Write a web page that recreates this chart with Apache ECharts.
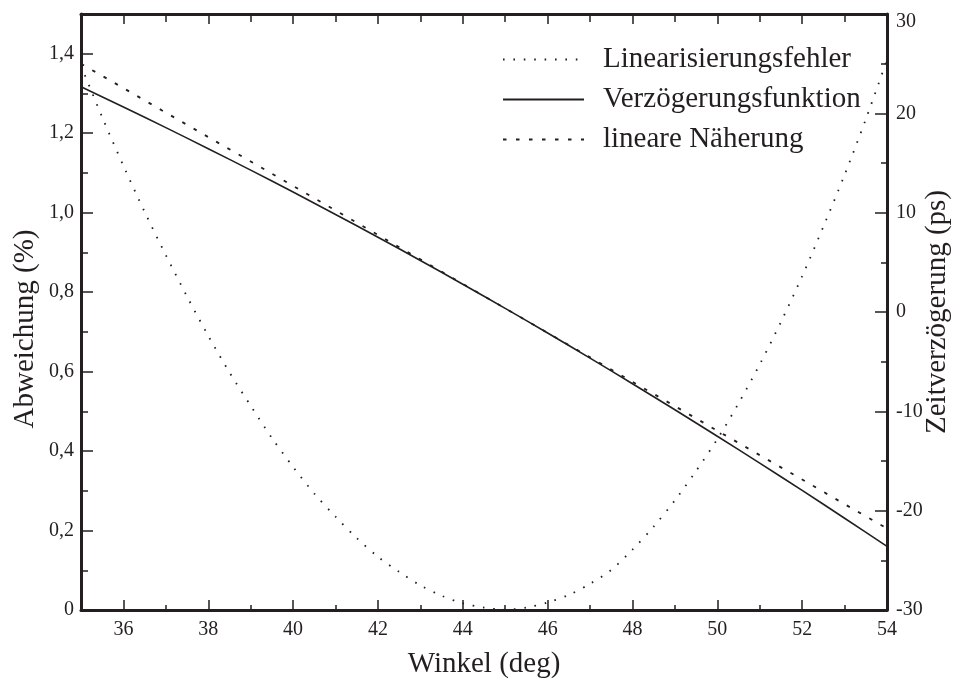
<!DOCTYPE html>
<html>
<head>
<meta charset="utf-8">
<script src="https://cdn.jsdelivr.net/npm/echarts@6/dist/echarts.min.js"></script>
<style>
  html, body { margin: 0; padding: 0; background: #ffffff; }
  #chart { width: 956px; height: 679px; }
</style>
</head>
<body>
<div id="chart"></div>
<script>
// Linearisation error (%) over angle, sampled every half degree
const errorAngles = [35, 35.5, 36, 36.5, 37, 37.5, 38, 38.5, 39, 39.5, 40, 40.5, 41, 41.5, 42, 42.5, 43, 43.5, 44, 44.5,
                     45, 45.5, 46, 46.5, 47, 47.5, 48, 48.5, 49, 49.5, 50, 50.5, 51, 51.5, 52, 52.5, 53, 53.5, 54];
const errorPercent = [1.37, 1.24, 1.118, 1.002, 0.893, 0.789, 0.690, 0.598, 0.514, 0.433, 0.360, 0.293, 0.235, 0.181, 0.134, 0.096, 0.062, 0.036, 0.017, 0.006,
                      0.001, 0.006, 0.019, 0.038, 0.066, 0.101, 0.152, 0.210, 0.276, 0.350, 0.430, 0.520, 0.618, 0.725, 0.840, 0.965, 1.095, 1.235, 1.385];

// Delay function and its linear approximation (ps), one value per degree
const delayAngles = [35, 36, 37, 38, 39, 40, 41, 42, 43, 44, 45, 46, 47, 48, 49, 50, 51, 52, 53, 54];
const delayPs  = [22.67, 20.64, 18.56, 16.44, 14.28, 12.08, 9.82, 7.53, 5.19, 2.80, 0.37, -2.11, -4.64, -7.22, -9.84, -12.51, -15.21, -17.96, -20.76, -23.60];
const linearPs = [25.00, 22.54, 20.07, 17.61, 15.15, 12.69, 10.22, 7.76, 5.30, 2.83, 0.37, -2.09, -4.56, -7.02, -9.48, -11.95, -14.41, -16.87, -19.34, -21.80];

// Tick positions
const angleTicks = [36, 38, 40, 42, 44, 46, 48, 50, 52, 54];
const angleMinorTicks = [37, 39, 41, 43, 45, 47, 49, 51, 53];
const percentTicks = [0, 0.2, 0.4, 0.6, 0.8, 1.0, 1.2, 1.4];
const percentMinorTicks = [0.1, 0.3, 0.5, 0.7, 0.9, 1.1, 1.3];
const psTicks = [-30, -20, -10, 0, 10, 20, 30];
const psMinorTicks = [-25, -15, -5, 5, 15, 25];

const INK = '#231f20';
const FONT = 'Liberation Serif';

const pair = (xs, ys) => xs.map((x, i) => [x, ys[i]]);

// Axis used only to draw an extra set of inside tick marks
function tickAxis(base, values, len, withLine) {
  return Object.assign({
    type: 'value',
    splitLine: { show: false },
    axisLine: { show: !!withLine, onZero: false, lineStyle: { color: INK, width: 3 } },
    axisTick: { show: true, inside: true, length: len, customValues: values, lineStyle: { color: INK, width: 1.5 } },
    axisLabel: { show: false }
  }, base);
}

const chart = echarts.init(document.getElementById('chart'), null, { renderer: 'canvas' });

const option = {
  backgroundColor: '#ffffff',
  animation: false,
  textStyle: { fontFamily: FONT, color: INK },
  grid: { left: 81, right: 69, top: 14, bottom: 69, containLabel: false, outerBoundsMode: 'none' },
  legend: {
    orient: 'vertical',
    left: 497,
    top: 40,
    itemWidth: 81,
    itemHeight: 30,
    itemGap: 11,
    selectedMode: false,
    itemStyle: { opacity: 0 },
    textStyle: { fontFamily: FONT, fontSize: 29, color: INK, padding: [0, 0, 0, 14] },
    data: ['Linearisierungsfehler', 'Verzögerungsfunktion', 'lineare Näherung']
  },
  xAxis: [
    {
      type: 'value', position: 'bottom', min: 35, max: 54,
      splitLine: { show: false },
      axisLine: { show: true, onZero: false, lineStyle: { color: INK, width: 3 } },
      axisTick: { show: true, inside: true, length: 10, customValues: angleTicks, lineStyle: { color: INK, width: 1.5 } },
      axisLabel: { show: true, customValues: angleTicks, margin: 10, fontFamily: FONT, fontSize: 20, color: INK },
      name: 'Winkel (deg)', nameLocation: 'middle', nameGap: 40, nameMoveOverlap: false,
      nameTextStyle: { fontFamily: FONT, fontSize: 29, color: INK }
    },
    tickAxis({ position: 'bottom', min: 35, max: 54 }, angleMinorTicks, 5, false),
    tickAxis({ position: 'top', min: 35, max: 54 }, angleTicks, 10, true),
    tickAxis({ position: 'top', min: 35, max: 54 }, angleMinorTicks, 8, false)
  ],
  yAxis: [
    {
      type: 'value', position: 'left', min: 0, max: 1.5,
      splitLine: { show: false },
      axisLine: { show: true, onZero: false, lineStyle: { color: INK, width: 3 } },
      axisTick: { show: true, inside: true, length: 12, customValues: percentTicks, lineStyle: { color: INK, width: 1.5 } },
      axisLabel: {
        show: true, customValues: percentTicks, margin: 7, fontFamily: FONT, fontSize: 20, color: INK,
        formatter: v => (v === 0 ? '0' : v.toFixed(1).replace('.', ','))
      },
      name: 'Abweichung (%)', nameLocation: 'middle', nameGap: 41, nameRotate: 90, nameMoveOverlap: false,
      nameTextStyle: { fontFamily: FONT, fontSize: 29, color: INK, padding: [0, 34, 0, 0] }
    },
    tickAxis({ position: 'left', min: 0, max: 1.5 }, percentMinorTicks, 7, false),
    {
      type: 'value', position: 'right', min: -30, max: 30,
      splitLine: { show: false },
      axisLine: { show: true, onZero: false, lineStyle: { color: INK, width: 3 } },
      axisTick: { show: true, inside: true, length: 12, customValues: psTicks, lineStyle: { color: INK, width: 1.5 } },
      axisLabel: {
        show: true, customValues: psTicks, margin: 9, fontFamily: FONT, fontSize: 20, color: INK,
        // the top label sits a little below the frame corner
        formatter: v => (v === 30 ? '{top|30}' : String(v)),
        rich: { top: { fontFamily: FONT, fontSize: 20, color: INK, padding: [16, 0, 0, 0] } }
      },
      name: 'Zeitverzögerung (ps)', nameLocation: 'middle', nameGap: 36, nameRotate: 90, nameMoveOverlap: false,
      nameTextStyle: { fontFamily: FONT, fontSize: 29, color: INK }
    },
    tickAxis({ position: 'right', min: -30, max: 30 }, psMinorTicks, 6, false)
  ],
  series: [
    {
      name: 'Linearisierungsfehler', type: 'line', xAxisIndex: 0, yAxisIndex: 0,
      data: pair(errorAngles, errorPercent),
      smooth: 0.3, symbol: 'none',
      itemStyle: { color: INK },
      lineStyle: { color: INK, width: 1.8, type: [1.6, 8.8], cap: 'butt' }
    },
    {
      name: 'Verzögerungsfunktion', type: 'line', xAxisIndex: 0, yAxisIndex: 2,
      data: pair(delayAngles, delayPs),
      smooth: 0.3, symbol: 'none',
      itemStyle: { color: INK },
      lineStyle: { color: INK, width: 1.6, type: 'solid' }
    },
    {
      name: 'lineare Näherung', type: 'line', xAxisIndex: 0, yAxisIndex: 2,
      data: pair(delayAngles, linearPs),
      symbol: 'none',
      itemStyle: { color: INK },
      lineStyle: { color: INK, width: 1.8, type: [3.5, 9.5], cap: 'butt' }
    }
  ]
};

chart.setOption(option);
</script>
</body>
</html>
